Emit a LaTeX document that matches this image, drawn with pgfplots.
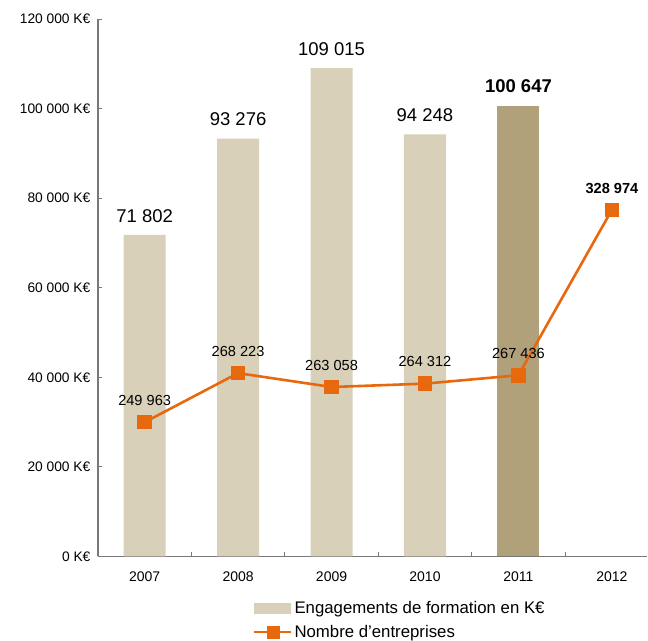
\documentclass[border=0pt]{standalone}
\usepackage{fontspec}
\setmainfont{Liberation Sans}
\usepackage{pgfplots}
\pgfplotsset{compat=1.18}

\definecolor{beige}{RGB}{216,208,185}
\definecolor{beigedark}{RGB}{176,161,122}
\definecolor{orangeline}{RGB}{232,104,14}
\definecolor{axisgray}{RGB}{120,120,120}

\begin{document}
\begin{tikzpicture}
% page frame, 1pt = 1px of the reference
\path (-98pt,-84pt) rectangle (550pt,557pt);

\pgfplotsset{
  basechart/.style={
    scale only axis,
    width=550pt, height=538pt,
    at={(0pt,0pt)}, anchor=south west,
    xmin=-0.5, xmax=5.38,
    clip=false,
  },
}

\begin{axis}[
  basechart,
  ymin=0, ymax=120000,
  scaled y ticks=false,
  tick align=inside,
  axis x line*=bottom, axis y line*=left,
  axis line style={-, axisgray, line width=1.2pt},
  xtick={0,1,2,3,4,5},
  xticklabels={2007,2008,2009,2010,2011,2012},
  major x tick style={draw=none},
  minor xtick={0.5,1.5,2.5,3.5,4.5},
  minor tick length=4.5pt,
  minor x tick style={axisgray, line width=0.8pt},
  xticklabel style={font=\fontsize{14}{16}\selectfont, yshift=-12pt},
  ytick={0,20000,40000,60000,80000,100000,120000},
  yticklabels={0 K€,20 000 K€,40 000 K€,60 000 K€,80 000 K€,100 000 K€,120 000 K€},
  yticklabel style={font=\fontsize{13.8}{15}\selectfont, xshift=-4pt},
  major y tick style={axisgray, line width=0.8pt},
  major tick length=4.5pt,
  legend style={at={(axis description cs:0.2818,-0.0800)}, anchor=north west,
    draw=none, fill=none,
    font=\fontsize{16.8}{18}\selectfont, row sep=6pt, inner sep=0pt,
    legend cell align=left},
  legend image code/.code={
    \fill[beige] (0pt,-5.5pt) rectangle (37pt,5.5pt);
  },
]
\addplot[ybar, bar width=0.45, bar shift=0pt, fill=beige, draw=none,
  nodes near coords, point meta=explicit symbolic,
  every node near coord/.append style={font=\fontsize{18.5}{20}\selectfont, yshift=9pt}]
  coordinates {(0,71802) [71 802] (1,93276) [93 276] (2,109015) [109 015] (3,94248) [94 248]};
\addlegendentry{Engagements de formation en K€}
\addplot[ybar, bar width=0.45, bar shift=0pt, fill=beigedark, draw=none,
  nodes near coords, point meta=explicit symbolic,
  every node near coord/.append style={font=\fontsize{18.5}{20}\selectfont\bfseries, yshift=9pt},
  forget plot]
  coordinates {(4,100647) [100 647]};
\addlegendimage{legend image code/.code={
    \draw[orangeline, line width=2.6pt] (0pt,0pt) -- (37pt,0pt);
    \fill[orangeline] (12.5pt,-6pt) rectangle (24.5pt,6pt);
  }}
\addlegendentry{Nombre d’entreprises}
\end{axis}

\begin{axis}[
  basechart,
  ymin=200000, ymax=400000,
  hide axis,
]
\addplot[orangeline, line width=2.6pt, mark=square*, mark size=6pt,
  mark options={fill=orangeline, draw=none},
  nodes near coords, point meta=explicit symbolic,
  every node near coord/.append style={text=black, font=\fontsize{14.6}{16}\selectfont, yshift=12pt}]
  coordinates {(0,249963) [249 963] (1,268223) [268 223] (2,263058) [263 058]
               (3,264312) [264 312] (4,267436) [267 436] (5,328974) [\bfseries 328 974]};
\end{axis}
\end{tikzpicture}
\end{document}
